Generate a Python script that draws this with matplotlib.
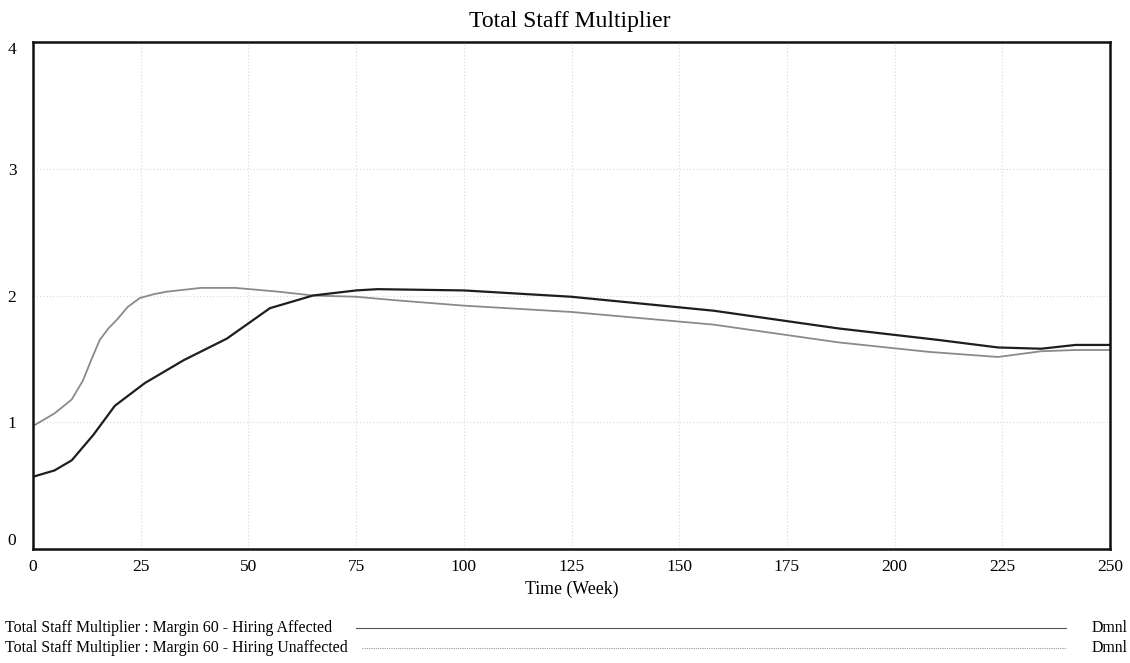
import matplotlib.pyplot as plt
from matplotlib.lines import Line2D

plt.rcParams["font.family"] = ["Liberation Serif", "DejaVu Serif"]

# Hiring Affected (dark line)
t_affected = [0, 5, 9, 14, 19, 26, 35, 45, 55, 65, 75, 80, 100, 125, 158, 187, 210, 224, 234, 242, 250]
v_affected = [0.57, 0.62, 0.70, 0.90, 1.13, 1.31, 1.49, 1.66, 1.90, 2.00, 2.04, 2.05, 2.04, 1.99,
              1.88, 1.74, 1.65, 1.59, 1.58, 1.61, 1.61]

# Hiring Unaffected (grey line)
t_unaffected = [0, 5, 9, 11.6, 13.5, 15.5, 17.5, 19.5, 22, 24.8, 28, 31, 39, 47, 57, 65, 75, 85, 100,
                125, 158, 187, 208, 224, 234, 242, 250]
v_unaffected = [0.97, 1.07, 1.18, 1.33, 1.49, 1.65, 1.74, 1.81, 1.91, 1.98, 2.01, 2.03, 2.06, 2.06,
                2.03, 2.00, 1.99, 1.96, 1.92, 1.87, 1.77, 1.63, 1.555, 1.515, 1.56, 1.57, 1.57]

x_ticks = [0, 25, 50, 75, 100, 125, 150, 175, 200, 225, 250]
y_ticks = [0, 1, 2, 3, 4]
legend_labels = ["Total Staff Multiplier : Margin 60 - Hiring Affected",
                 "Total Staff Multiplier : Margin 60 - Hiring Unaffected"]
units = "Dmnl"

W, H = 1130, 663
fig = plt.figure(figsize=(W / 100, H / 100), dpi=100)
ax = fig.add_axes([33 / W, (H - 549) / H, (1110 - 33) / W, (549 - 42) / H])

for x in x_ticks[1:-1]:
    ax.axvline(x, color="#d8d8d8", lw=0.8, ls=(0, (1, 2)), zorder=0)
for y in y_ticks[1:-1]:
    ax.axhline(y, color="#d8d8d8", lw=0.8, ls=(0, (1, 2)), zorder=0)

ax.plot(t_unaffected, v_unaffected, color="#8a8a8a", lw=1.3)
ax.plot(t_affected, v_affected, color="#1e1e1e", lw=1.6)

ax.set_xlim(0, 250)
ax.set_ylim(0, 4)
ax.set_xticks(x_ticks)
ax.set_yticks(y_ticks)
ax.tick_params(length=0, labelsize=12.5)
ax.tick_params(axis="x", pad=7)
ax.tick_params(axis="y", pad=12)
# vensim pulls the end labels inside the frame
ylabs = ax.get_yticklabels()
ylabs[0].set_verticalalignment("bottom")
ylabs[-1].set_verticalalignment("top")
for s in ax.spines.values():
    s.set_linewidth(1.8)
    s.set_color("#111111")
ax.set_xlabel("Time (Week)", fontsize=12.8, labelpad=4)
fig.text(570 / W, 1 - 21 / H, "Total Staff Multiplier", fontsize=17, ha="center", va="center")

rows = [628 / H, 648 / H]
starts = [356, 362]
styles = [dict(color="#555555", lw=0.8), dict(color="#999999", lw=0.8, ls=(0, (1, 1)))]
for label, yy, x0, st in zip(legend_labels, rows, starts, styles):
    fy = 1 - yy
    fig.text(5 / W, fy, label, fontsize=11.4, va="center", ha="left")
    fig.text(1128 / W, fy, units, fontsize=11.4, va="center", ha="right")
    fig.add_artist(Line2D([x0 / W, 1066 / W], [fy, fy], **st))

plt.savefig("out.png", dpi=100)
